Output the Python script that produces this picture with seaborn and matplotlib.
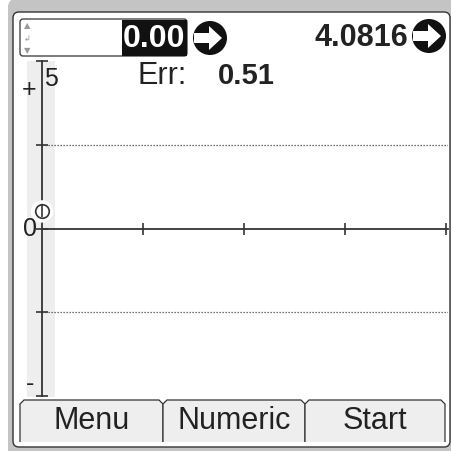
import matplotlib
matplotlib.use("Agg")
import matplotlib.pyplot as plt
from matplotlib.patches import FancyBboxPatch, Rectangle, Circle, Polygon
import pandas as pd
import seaborn as sns

# values shown on the instrument screen
setpoint_text = "0.00"
reading_text = "4.0816"
err_label = "Err:"
err_value = 0.51
y_limits = [-5, 5]
y_ticks = [-5, -2.5, 0, 2.5, 5]
grid_levels = [-2.5, 2.5]
x_ticks = [1, 2, 3, 4]
x_limits = [0, 4.02]
tab_labels = ["Menu", "Numeric", "Start"]

W, H = 451, 452
INK = "#222222"
LINE = "#333333"
PANEL = "#eeeeee"
FRAME = "#c4c4c4"

sns.set_theme(style="white")
plt.rcParams["font.family"] = ["Liberation Sans", "DejaVu Sans"]

fig = plt.figure(figsize=(W / 100, H / 100), dpi=100)

# background layer in screen pixels (y grows downward)
bg = fig.add_axes([0, 0, 1, 1])
bg.set_xlim(0, W)
bg.set_ylim(H, 0)
bg.axis("off")

bg.add_patch(FancyBboxPatch((8, 0), W + 10, H + 10, boxstyle="round,pad=0,rounding_size=8",
                            fc=FRAME, ec="none"))
bg.add_patch(FancyBboxPatch((13, 13), 437, 435, boxstyle="round,pad=0,rounding_size=6",
                            fc="white", ec=LINE, lw=1.0))

# input field with highlighted setpoint
bg.add_patch(FancyBboxPatch((20, 20), 167, 37, boxstyle="round,pad=0,rounding_size=3",
                            fc="white", ec=LINE, lw=0.9))
bg.add_patch(Rectangle((122, 20.5), 64.5, 36, fc="#111111", ec="none"))
bg.text(185, 39, setpoint_text, ha="right", va="center", fontsize=23,
        fontweight="bold", color="white")
for yy, sym in [(26, "\u25b2"), (39, "\u21b2"), (51, "\u25bc")]:
    bg.text(27, yy, sym, ha="center", va="center", fontsize=6, color="#999999",
            family="DejaVu Sans")

bg.text(408, 38, reading_text, ha="right", va="center", fontsize=22,
        fontweight="bold", color=INK)


def arrow_icon(cx, cy, r=17):
    bg.add_patch(Circle((cx, cy), r, fc="#111111", ec="none"))
    pts = [(cx - 16, cy - 5), (cx - 1, cy - 5), (cx - 1, cy - 12), (cx + 12, cy),
           (cx - 1, cy + 12), (cx - 1, cy + 5), (cx - 16, cy + 5)]
    bg.add_patch(Polygon(pts, closed=True, fc="white", ec="none"))


arrow_icon(210, 39)
arrow_icon(429, 37)

# shaded strip behind the vertical scale
bg.add_patch(Rectangle((27, 62), 28, 336, fc=PANEL, ec="none"))

bg.text(137, 76, err_label, ha="left", va="center", fontsize=22, color=INK)
bg.text(218, 76, f"{err_value:.2f}", ha="left", va="center", fontsize=21,
        fontweight="bold", color=INK)
bg.text(29, 90, "+", ha="center", va="center", fontsize=18, color=INK)
bg.text(30, 384, "-", ha="center", va="center", fontsize=18, color=INK)

# soft-key tabs along the bottom
edges = [20, 163, 305, 445]
top, bottom, c = 401, 443, 4
for i, lab in enumerate(tab_labels):
    x0, x1 = edges[i], edges[i + 1]
    pts = [(x0, bottom), (x0, top + c), (x0 + c, top), (x1 - c, top),
           (x1, top + c), (x1, bottom)]
    bg.add_patch(Polygon(pts, closed=False, fc=PANEL, ec=LINE, lw=0.9))
    bg.text((x0 + x1) / 2, 421, lab, ha="center", va="center", fontsize=22, color=INK)

# data axes: error plot
ax = fig.add_axes([42 / W, (H - 397) / H, (448 - 42) / W, 335 / H])
ax.set_facecolor("none")
ax.set_xlim(*x_limits)
ax.set_ylim(*y_limits)
ax.set_xticks(x_ticks)
ax.set_yticks(y_ticks)
ax.grid(False)
for side in ["top", "right"]:
    ax.spines[side].set_visible(False)
ax.spines["bottom"].set_position(("data", 0))
for side in ["left", "bottom"]:
    ax.spines[side].set_color(LINE)
    ax.spines[side].set_linewidth(1.3)
ax.tick_params(axis="x", direction="inout", length=9, width=1.2, color=LINE,
               labelbottom=False, bottom=True)
ax.tick_params(axis="y", direction="inout", length=8, width=1.2, color=LINE,
               labelleft=False, left=True)

for lvl in grid_levels:
    ax.axhline(lvl, color="#444444", lw=0.9, ls=(0, (1, 1.4)), zorder=1)

ax.text(0.02, y_limits[1] * 0.97, "5", ha="left", va="top", fontsize=18, color=INK)
ax.text(-0.05, 0, "0", ha="right", va="center", fontsize=18, color=INK)

err_df = pd.DataFrame({"x": [0], "err": [err_value]})
sns.scatterplot(data=err_df, x="x", y="err", ax=ax, s=260, color="white",
                edgecolor="none", zorder=4, clip_on=False, legend=False)
sns.scatterplot(data=err_df, x="x", y="err", ax=ax, s=95, color="white",
                edgecolor=LINE, linewidth=1.2, zorder=5, clip_on=False, legend=False)
sns.scatterplot(data=err_df, x="x", y="err", ax=ax, s=80, marker="|",
                color=LINE, linewidth=1.2, zorder=6, clip_on=False, legend=False)

fig.savefig("out.png", dpi=100)
